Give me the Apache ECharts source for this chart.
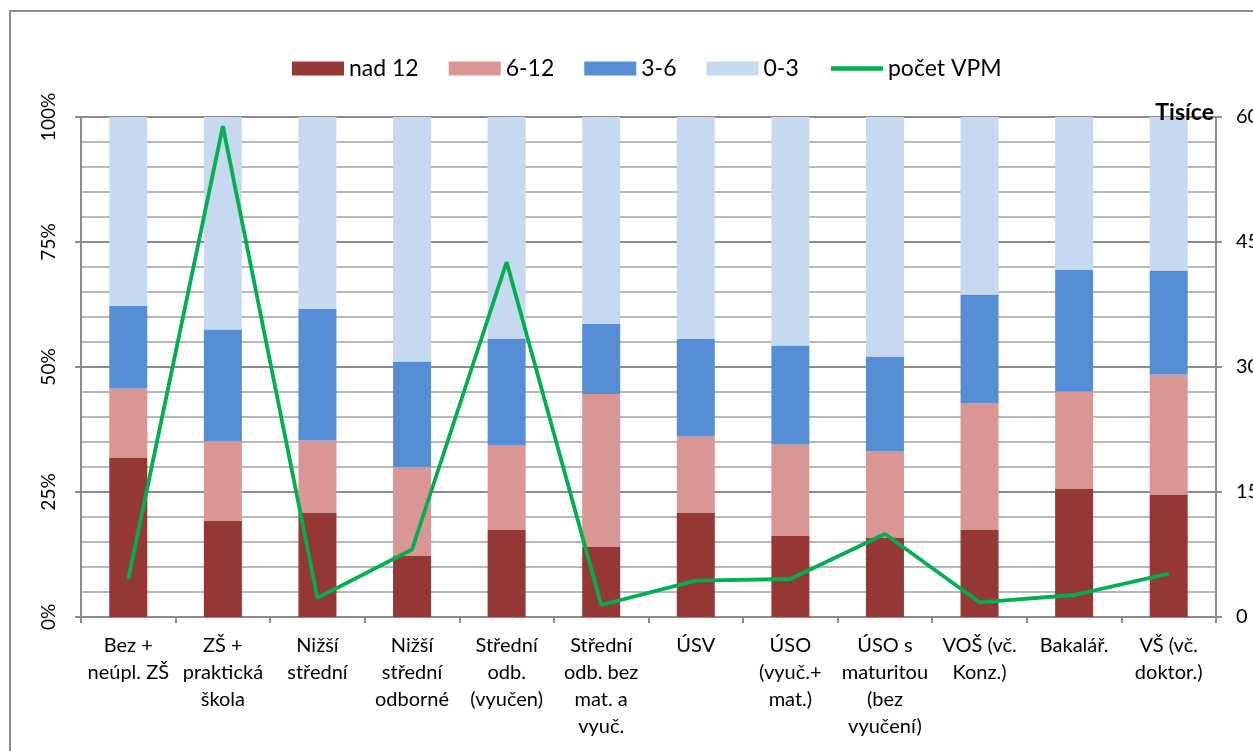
<!DOCTYPE html>
<html>
<head>
<meta charset="utf-8">
<script src="https://cdn.jsdelivr.net/npm/echarts@6/dist/echarts.min.js"></script>
<style>
html,body{margin:0;padding:0;background:#fff;}
#chart{width:1253px;height:751px;}
</style>
</head>
<body>
<div id="chart"></div>
<script>
const categories = ["Bez +\nneúpl. ZŠ","ZŠ +\npraktická\nškola","Nižší\nstřední","Nižší\nstřední\nodborné","Střední\nodb.\n(vyučen)","Střední\nodb. bez\nmat. a\nvyuč.","ÚSV","ÚSO\n(vyuč.+\nmat.)","ÚSO s\nmaturitou\n(bez\nvyučení)","VOŠ (vč.\nKonz.)","Bakalář.","VŠ (vč.\ndoktor.)"];
const nad12 = [31.9,19.2,20.9,12.2,17.4,14.0,20.9,16.3,15.9,17.5,25.6,24.5];
const m6_12 = [13.8,16.0,14.4,17.8,17.0,30.6,15.2,18.2,17.3,25.2,19.5,24.0];
const m3_6  = [16.5,22.3,26.3,21.1,21.3,14.0,19.5,19.8,18.9,21.8,24.3,20.8];
const m0_3  = [37.8,42.5,38.4,48.9,44.3,41.4,44.4,45.7,47.9,35.5,30.6,30.7];
const pocetVPM = [4.56,58.9,2.3,8.1,42.6,1.44,4.36,4.56,9.96,1.76,2.64,5.2];
const leftTicks = {min:0,max:100,interval:25};
const rightTicks = {min:0,max:60,interval:15};

const FONT = 'Lato, "Open Sans", sans-serif';
const chart = echarts.init(document.getElementById('chart'));
const barSeries = (name, data, color) => ({
  name, type:'bar', stack:'total', data, barWidth:38,
  itemStyle:{color}, emphasis:{disabled:true}
});
chart.setOption({
  animation:false,
  textStyle:{fontFamily:FONT, color:'#000'},
  graphic:[{type:'rect', shape:{x:10,y:11,width:1300,height:800},
    style:{fill:'none', stroke:'#8c8c8c', lineWidth:2}, silent:true}],
  legend:{
    top:52, left:287,
    itemWidth:52, itemHeight:14, itemGap:30,
    textStyle:{fontSize:23, fontFamily:FONT, color:'#000'},
    data:[
      {name:'nad 12', icon:'rect'},
      {name:'6-12', icon:'rect'},
      {name:'3-6', icon:'rect'},
      {name:'0-3', icon:'rect'},
      {name:'počet VPM', itemStyle:{opacity:0}, lineStyle:{width:4.5, color:'#00B050'}}
    ]
  },
  grid:{left:81, right:37, top:117, bottom:134, containLabel:false, outerBoundsMode:'none'},
  xAxis:{
    type:'category', data:categories,
    axisLine:{lineStyle:{color:'#8c8c8c', width:2}},
    axisTick:{show:true, alignWithLabel:false, length:6, lineStyle:{color:'#8c8c8c', width:2}},
    axisLabel:{interval:0, fontSize:20, lineHeight:27, color:'#000', margin:15, fontFamily:FONT}
  },
  yAxis:[{
    type:'value', min:leftTicks.min, max:leftTicks.max, interval:leftTicks.interval,
    axisLine:{show:true, lineStyle:{color:'#8c8c8c', width:2}},
    axisTick:{show:true, length:6, lineStyle:{color:'#8c8c8c', width:2}},
    axisLabel:{formatter:'{value}%', rotate:90, fontSize:19, color:'#000', margin:23, fontFamily:FONT},
    splitLine:{show:true, lineStyle:{color:'#8c8c8c', width:2}},
    minorTick:{show:false, splitNumber:5},
    minorSplitLine:{show:true, lineStyle:{color:'#b8b8b8', width:2}}
  },{
    type:'value', min:rightTicks.min, max:rightTicks.max, interval:rightTicks.interval,
    z:10,
    name:'Tisíce', nameLocation:'end', nameGap:4,
    nameTextStyle:{fontWeight:'bold', fontSize:23, align:'right', verticalAlign:'middle', color:'#000', fontFamily:FONT, padding:[0,2,0,0]},
    axisLine:{show:true, lineStyle:{color:'#8c8c8c', width:2}},
    axisTick:{show:true, length:6, lineStyle:{color:'#8c8c8c', width:2}},
    axisLabel:{fontSize:20, color:'#000', margin:20, fontFamily:FONT, hideOverlap:false},
    splitLine:{show:false}
  }],
  series:[
    barSeries('nad 12', nad12, '#953735'),
    barSeries('6-12', m6_12, '#D99694'),
    barSeries('3-6', m3_6, '#558ED5'),
    barSeries('0-3', m0_3, '#C6D9F1'),
    {name:'počet VPM', type:'line', yAxisIndex:1, data:pocetVPM, symbol:'none',
     lineStyle:{color:'#00B050', width:3.8}, itemStyle:{color:'#00B050'}, z:5}
  ]
});
</script>
</body>
</html>
